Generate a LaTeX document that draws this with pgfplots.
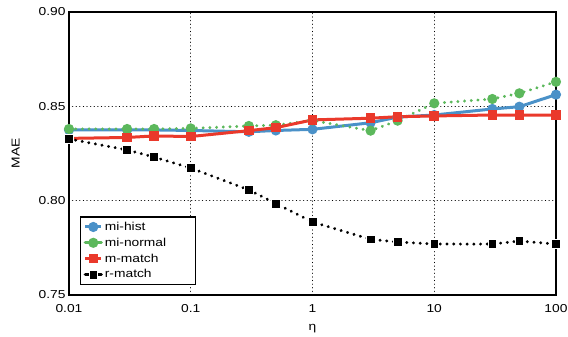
\documentclass[border=0pt]{standalone}
\usepackage{fontspec}
\setmainfont{Liberation Sans}[FakeStretch=1.2]
\usepackage{pgfplots}
\pgfplotsset{compat=1.18}
\definecolor{cblue}{RGB}{74,145,200}
\definecolor{cgreen}{RGB}{92,184,92}
\definecolor{cred}{RGB}{234,57,43}
\begin{document}
\begin{tikzpicture}[font=\fontsize{11.5}{13.5}\selectfont]
\useasboundingbox (-69pt,-42pt) rectangle (499pt,295pt);
\begin{axis}[
  at={(0,0)}, anchor=south west,
  scale only axis, width=487pt, height=283pt,
  xmode=log, xmin=0.01, xmax=100, ymin=0.75, ymax=0.90,
  xtick={0.01,0.1,1,10,100}, xticklabels={0.01,0.1,1,10,100},
  ytick={0.75,0.80,0.85,0.90}, yticklabels={0.75,0.80,0.85,0.90},
  xminorticks=false,
  major tick length=0pt,
  grid=major,
  major grid style={black, line width=1.3pt, dash pattern=on 0.01pt off 3.6pt, line cap=round},
  axis line style={line width=1.8pt},
  xticklabel style={yshift=-6pt},
  /pgf/number format/assume math mode=true,
  xlabel={η}, ylabel={MAE},
  xlabel style={yshift=-5pt},
  ylabel style={yshift=12pt},
  clip=false,
  legend cell align=left,
  legend style={at={(0.0226,0.035)}, anchor=south west, draw=black, line width=1.4pt,
    inner sep=3pt, row sep=2pt, font=\fontsize{11.5}{13.5}\selectfont},
  legend image code/.code={\draw[solid, mark repeat=2,mark phase=2] plot coordinates {(0pt,0pt) (8pt,0pt) (16pt,0pt)};},
]
\addplot[cblue, line width=3pt, mark=*, mark size=3.5pt] coordinates {
(0.01,0.8375) (0.03,0.8375) (0.05,0.8375) (0.1,0.8372) (0.3,0.8365) (0.5,0.8372) (1,0.8378) (3,0.8413) (5,0.8443) (10,0.8454) (30,0.8486) (50,0.8498) (100,0.8562)};
\addlegendentry{mi-hist}
\addplot[cgreen, line width=3.2pt, dash pattern=on 0.01pt off 6.7pt, line cap=round, mark=*, mark size=3.5pt, mark options={solid, line width=3pt}] coordinates {
(0.01,0.838) (0.03,0.838) (0.05,0.838) (0.1,0.8383) (0.3,0.8396) (0.5,0.8400) (1,0.8425) (3,0.8371) (5,0.8424) (10,0.8516) (30,0.8539) (50,0.8569) (100,0.863)};
\addlegendentry{mi-normal\hspace*{24pt}}
\addplot[cred, line width=3pt, mark=square*, mark size=3.3pt] coordinates {
(0.01,0.8330) (0.03,0.8335) (0.05,0.8343) (0.1,0.8340) (0.3,0.8371) (0.5,0.8387) (1,0.8428) (3,0.8437) (5,0.8445) (10,0.8449) (30,0.8454) (50,0.8454) (100,0.8454)};
\addlegendentry{m-match}
\addplot[black, line width=3.2pt, dash pattern=on 0.01pt off 6.7pt, line cap=round, mark=square*, mark size=4.4pt, mark options={solid, fill=black, draw=white, line width=0.6pt}] coordinates {
(0.01,0.8327) (0.03,0.8269) (0.05,0.8231) (0.1,0.8173) (0.3,0.8057) (0.5,0.7985) (1,0.7887) (3,0.7795) (5,0.7781) (10,0.7770) (30,0.7770) (50,0.7786) (100,0.7770)};
\addlegendentry{r-match}
\end{axis}
\end{tikzpicture}
\end{document}
